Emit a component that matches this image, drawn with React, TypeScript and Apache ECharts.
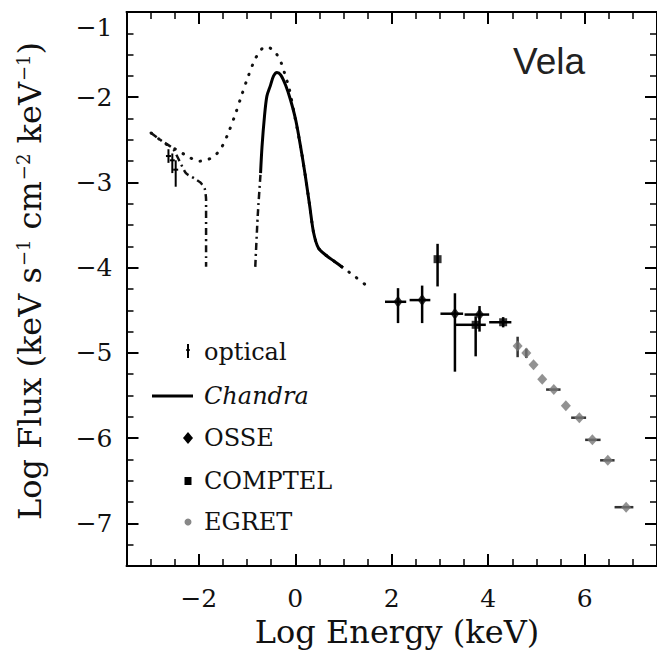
import React, { useEffect, useRef } from "react";
import * as echarts from "echarts";

// ---- Data (log10 values) ----
// model curve (dotted)
const modelX = [-2.99, -2.68, -2.48, -2.27, -2.0, -1.85, -1.66, -1.52, -1.39, -1.25, -1.12, -0.98, -0.84, -0.74, -0.64, -0.5, -0.38, -0.29, -0.2, -0.13, -0.03, 0.11, 0.21, 0.3, 0.38, 0.48, 0.65, 0.82, 0.99, 1.25, 1.5];
const modelY = [-2.42, -2.55, -2.61, -2.68, -2.75, -2.74, -2.68, -2.58, -2.42, -2.21, -1.99, -1.76, -1.56, -1.47, -1.41, -1.43, -1.5, -1.6, -1.76, -1.89, -2.17, -2.58, -2.93, -3.28, -3.59, -3.77, -3.86, -3.93, -4.0, -4.11, -4.22];
// Chandra spectrum (solid)
const chandraX = [-0.72, -0.69, -0.64, -0.59, -0.52, -0.45, -0.38, -0.3, -0.2, -0.1, 0.01, 0.11, 0.21, 0.3, 0.38, 0.48, 0.65, 0.82, 0.99];
const chandraY = [-2.89, -2.58, -2.23, -1.99, -1.87, -1.75, -1.71, -1.74, -1.86, -2.03, -2.27, -2.58, -2.93, -3.28, -3.59, -3.77, -3.86, -3.93, -4.0];
// absorbed model, optical/UV branch (dash-dot)
const absOptX = [-2.99, -2.75, -2.54, -2.27, -2.1, -1.97, -1.88, -1.85, -1.85];
const absOptY = [-2.42, -2.52, -2.6, -2.89, -2.95, -3.0, -3.07, -3.2, -3.99];
// absorbed model, X-ray branch (dash-dot)
const absXrX = [-0.83, -0.78, -0.72];
const absXrY = [-3.99, -3.4, -2.89];

// optical points
const opticalX = [-2.63, -2.55, -2.48];
const opticalY = [-2.69, -2.74, -2.85];
const opticalYLo = [-2.77, -2.89, -3.05];
const opticalYHi = [-2.61, -2.66, -2.74];

// OSSE points
const osseX = [2.13, 2.63, 3.31, 3.82];
const osseY = [-4.4, -4.38, -4.54, -4.55];
const osseXLo = [1.86, 2.37, 3.01, 3.51];
const osseXHi = [2.3, 2.8, 3.48, 4.02];
const osseYLo = [-4.65, -4.65, -5.22, -4.75];
const osseYHi = [-4.24, -4.21, -4.3, -4.45];

// COMPTEL points
const comptelX = [2.95, 3.74, 4.31];
const comptelY = [-3.9, -4.67, -4.64];
const comptelXLo = [2.95, 3.33, 4.02];
const comptelXHi = [2.95, 3.95, 4.48];
const comptelYLo = [-4.22, -5.04, -4.7];
const comptelYHi = [-3.72, -4.57, -4.58];

// EGRET points
const egretX = [4.61, 4.79, 4.94, 5.12, 5.36, 5.61, 5.89, 6.16, 6.48, 6.86];
const egretY = [-4.92, -5.0, -5.14, -5.31, -5.43, -5.62, -5.76, -6.02, -6.26, -6.81];
const egretXLo = [4.61, 4.79, 4.94, 5.12, 5.2, 5.61, 5.72, 6.01, 6.32, 6.62];
const egretXHi = [4.61, 4.79, 4.94, 5.12, 5.5, 5.61, 6.03, 6.33, 6.62, 7.01];
const egretYLo = [-5.05, -5.06, -5.14, -5.31, -5.43, -5.62, -5.76, -6.02, -6.26, -6.81];
const egretYHi = [-4.81, -4.95, -5.14, -5.31, -5.43, -5.62, -5.76, -6.02, -6.26, -6.81];

const xMin = -3.5;
const xMax = 7.5;
const yMin = -7.5;
const yMax = -1;

const SERIF = "DejaVu Serif";

const pairs = (xs: number[], ys: number[]) => xs.map((x, i) => [x, ys[i]]);
const errRows = (xs: number[], ys: number[], xl: number[], xh: number[], yl: number[], yh: number[]) =>
  xs.map((x, i) => [x, ys[i], xl[i], xh[i], yl[i], yh[i]]);

const minus = (v: number) => (v < 0 ? "\u2212" + Math.abs(v) : String(v));

function errorSeries(rows: number[][], color: string, width: number, cap: number) {
  return {
    type: "custom",
    xAxisIndex: 0,
    yAxisIndex: 0,
    data: rows,
    encode: { x: 0, y: 1 },
    z: 4,
    renderItem: (params: any, api: any) => {
      const x = api.value(0), y = api.value(1);
      const a = api.coord([api.value(2), y]);
      const b = api.coord([api.value(3), y]);
      const c = api.coord([x, api.value(4)]);
      const d = api.coord([x, api.value(5)]);
      const children: any[] = [];
      if (Math.abs(b[0] - a[0]) > 0.5) {
        children.push({ type: "line", shape: { x1: a[0], y1: a[1], x2: b[0], y2: b[1] }, style: { stroke: color, lineWidth: width } });
      }
      if (Math.abs(d[1] - c[1]) > 0.5) {
        children.push({ type: "line", shape: { x1: c[0], y1: c[1], x2: d[0], y2: d[1] }, style: { stroke: color, lineWidth: width } });
      }
      if (cap > 0) {
        const p = api.coord([x, y]);
        children.push({ type: "line", shape: { x1: p[0] - cap, y1: p[1], x2: p[0] + cap, y2: p[1] }, style: { stroke: color, lineWidth: width } });
      }
      return { type: "group", children };
    },
  };
}

export default function App() {
  const ref = useRef<HTMLDivElement>(null);
  useEffect(() => {
    if (!ref.current) return;
    const chart = echarts.init(ref.current, undefined, { renderer: "svg" });
    const axisLine = { show: true, onZero: false, lineStyle: { color: "#000", width: 2 } };
    const noLine = { show: false, onZero: false };
    const minorX = (pos: string) => ({
      type: "value", position: pos, min: xMin, max: xMax, interval: 0.5,
      axisLine, axisTick: { show: true, inside: true, length: 7, lineStyle: { color: "#000", width: 1.5 } },
      axisLabel: { show: false }, splitLine: { show: false },
    });
    const majorX = (pos: string, labels: boolean) => ({
      type: "value", position: pos, min: xMin, max: xMax, splitNumber: 5,
      axisLine: noLine, axisTick: { show: true, inside: true, length: 12, lineStyle: { color: "#000", width: 2 } },
      axisLabel: labels
        ? { show: true, showMinLabel: false, showMaxLabel: false, fontFamily: SERIF, fontSize: 25, color: "#111", margin: 20, formatter: (v: number) => minus(v) }
        : { show: false },
      splitLine: { show: false },
    });
    const minorY = (pos: string) => ({
      type: "value", position: pos, min: yMin, max: yMax, interval: 0.25,
      axisLine, axisTick: { show: true, inside: true, length: 7, lineStyle: { color: "#000", width: 1.5 } },
      axisLabel: { show: false }, splitLine: { show: false },
    });
    const majorY = (pos: string, labels: boolean) => ({
      type: "value", position: pos, min: yMin, max: yMax, splitNumber: 6,
      axisLine: noLine, axisTick: { show: true, inside: true, length: 12, lineStyle: { color: "#000", width: 2 } },
      axisLabel: labels
        ? {
            show: true, showMinLabel: false, showMaxLabel: true, fontFamily: SERIF, fontSize: 25, color: "#111", margin: 14,
            formatter: (v: number) => (v === yMax ? "{t|" + minus(v) + "}" : minus(v)),
            rich: { t: { fontFamily: SERIF, fontSize: 25, color: "#111", padding: [30, 0, 0, 0] } },
          }
        : { show: false },
      splitLine: { show: false },
    });

    const option: any = {
      animation: false,
      backgroundColor: "#fff",
      grid: { left: 126.5, top: 12, width: 539, height: 554, containLabel: false },
      xAxis: [minorX("bottom"), majorX("bottom", true), minorX("top"), majorX("top", false)],
      yAxis: [minorY("left"), majorY("left", true), minorY("right"), majorY("right", false)],
      series: [
        {
          type: "line", xAxisIndex: 0, yAxisIndex: 0, data: pairs(modelX, modelY), showSymbol: false, smooth: 0.3, z: 2,
          lineStyle: { color: "#111", width: 3, type: [0.5, 9], cap: "round" },
        },
        {
          type: "line", xAxisIndex: 0, yAxisIndex: 0, data: pairs(absOptX, absOptY), showSymbol: false, smooth: 0.2, z: 2,
          lineStyle: { color: "#111", width: 2.5, type: [7, 4, 2, 4] },
        },
        {
          type: "line", xAxisIndex: 0, yAxisIndex: 0, data: pairs(absXrX, absXrY), showSymbol: false, smooth: 0.2, z: 2,
          lineStyle: { color: "#111", width: 2.5, type: [7, 4, 2, 4] },
        },
        {
          type: "line", xAxisIndex: 0, yAxisIndex: 0, data: pairs(chandraX, chandraY), showSymbol: false, smooth: 0.3, z: 3,
          lineStyle: { color: "#000", width: 3 },
        },
        errorSeries(errRows(opticalX, opticalY, opticalX, opticalX, opticalYLo, opticalYHi), "#000", 2, 2.5),
        errorSeries(errRows(osseX, osseY, osseXLo, osseXHi, osseYLo, osseYHi), "#000", 2.5, 0),
        errorSeries(errRows(comptelX, comptelY, comptelXLo, comptelXHi, comptelYLo, comptelYHi), "#000", 2.5, 0),
        errorSeries(errRows(egretX, egretY, egretXLo, egretXHi, egretYLo, egretYHi), "#333", 2.5, 0),
        {
          type: "scatter", xAxisIndex: 0, yAxisIndex: 0, data: pairs(osseX, osseY), symbol: "diamond", symbolSize: [9, 12], z: 5,
          itemStyle: { color: "#000" },
        },
        {
          type: "scatter", xAxisIndex: 0, yAxisIndex: 0, data: pairs(comptelX, comptelY), symbol: "rect", symbolSize: 8, z: 5,
          itemStyle: { color: "#000" },
        },
        {
          type: "scatter", xAxisIndex: 0, yAxisIndex: 0, data: pairs(egretX, egretY), symbol: "diamond", symbolSize: [10, 11], z: 5,
          itemStyle: { color: "#777" },
        },
      ],
      graphic: [
        {
          type: "text", x: 30, y: 281, rotation: Math.PI / 2, z: 10,
          style: {
            text: "Log Flux (keV s{sup|\u22121} cm{sup|\u22122} keV{sup|\u22121})",
            fontFamily: SERIF, fontSize: 32, fill: "#111", align: "center", verticalAlign: "middle",
            rich: { sup: { fontFamily: SERIF, fontSize: 18, fill: "#111", verticalAlign: "top", padding: [0, 0, 0, 1] } },
          },
        },
        {
          type: "text", x: 397, y: 632, z: 10,
          style: { text: "Log Energy (keV)", fontFamily: SERIF, fontSize: 32, fill: "#111", align: "center", verticalAlign: "middle" },
        },
        {
          type: "text", x: 513, y: 61, z: 10,
          style: { text: "Vela", fontFamily: "Liberation Sans", fontSize: 37, fill: "#222", align: "left", verticalAlign: "middle" },
        },
        // legend
        { type: "line", shape: { x1: 188, y1: 344, x2: 188, y2: 358 }, style: { stroke: "#000", lineWidth: 2 } },
        { type: "line", shape: { x1: 186, y1: 350, x2: 190, y2: 350 }, style: { stroke: "#000", lineWidth: 1.5 } },
        { type: "text", x: 204, y: 352, style: { text: "optical", fontFamily: SERIF, fontSize: 24, fill: "#111", align: "left", verticalAlign: "middle" } },
        { type: "line", shape: { x1: 152, y1: 396, x2: 193, y2: 396 }, style: { stroke: "#000", lineWidth: 3 } },
        { type: "text", x: 204, y: 396, style: { text: "Chandra", fontFamily: SERIF, fontStyle: "italic", fontSize: 24, fill: "#111", align: "left", verticalAlign: "middle" } },
        { type: "polygon", shape: { points: [[188, 432], [193, 438], [188, 444], [183, 438]] }, style: { fill: "#000" } },
        { type: "text", x: 204, y: 438, style: { text: "OSSE", fontFamily: SERIF, fontSize: 24, fill: "#111", align: "left", verticalAlign: "middle" } },
        { type: "rect", shape: { x: 184.5, y: 477, width: 7, height: 8 }, style: { fill: "#000" } },
        { type: "text", x: 204, y: 481, style: { text: "COMPTEL", fontFamily: SERIF, fontSize: 24, fill: "#111", align: "left", verticalAlign: "middle" } },
        { type: "circle", shape: { cx: 188, cy: 522, r: 3.5 }, style: { fill: "#888" } },
        { type: "text", x: 204, y: 522, style: { text: "EGRET", fontFamily: SERIF, fontSize: 24, fill: "#111", align: "left", verticalAlign: "middle" } },
      ],
    };
    chart.setOption(option);
    return () => chart.dispose();
  }, []);
  return <div ref={ref} style={{ position: "fixed", left: 0, top: 0, width: 657, height: 654, background: "#fff" }} />;
}
